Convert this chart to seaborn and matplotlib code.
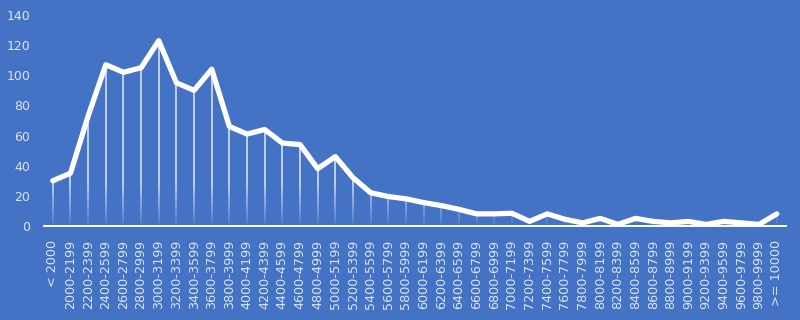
import numpy as np
import pandas as pd
import matplotlib
matplotlib.use("Agg")
import matplotlib.pyplot as plt
import seaborn as sns

categories = ["< 2000"] + [f"{a}-{a+199}" for a in range(2000, 10000, 200)] + [">= 10000"]
values = [30, 35, 73, 107, 102, 105, 123, 95, 90, 104, 66, 61, 64, 55, 54, 38, 46, 32,
          22, 19.5, 18, 15.5, 13.5, 11, 8, 8, 8.4, 3, 8, 4.4, 2, 5, 1, 5, 3, 2, 3, 1, 3, 2, 1, 8]
yticks = [0, 20, 40, 60, 80, 100, 120, 140]

BG = "#4472C4"
TXT = "#DCE3F1"

sns.set_style("white", {"axes.facecolor": BG, "figure.facecolor": BG})
plt.rcParams['font.family'] = ['DejaVu Sans']

df = pd.DataFrame({"x": np.arange(len(categories)), "y": values})

fig = plt.figure(figsize=(8, 3.2), dpi=100)
ax = fig.add_axes([0.055, 0.294, 0.927, 0.659])
ax.set_facecolor(BG)

vals = np.array(values, dtype=float)
xs = df["x"].values
# drop lines with fade near the baseline
fade = 30.0
N = 15
for k in range(N):
    y0 = k * fade / N
    y1 = (k + 1) * fade / N
    lo = np.minimum(vals, y0)
    hi = np.minimum(vals, y1)
    ax.vlines(xs, lo, hi, color="white", linewidth=1.1, alpha=0.03 + 0.82 * (k + 1) / N)
ax.vlines(xs, np.minimum(vals, fade), vals, color="white", linewidth=1.1, alpha=0.85)

sns.lineplot(data=df, x="x", y="y", ax=ax, color="white", linewidth=3.8,
             solid_joinstyle="round", solid_capstyle="round", zorder=5)

ax.set_xlim(-0.5, len(categories) - 0.5)
ax.set_ylim(0, 140)
ax.set_yticks(yticks)
ax.set_yticklabels([str(t) for t in yticks])
ax.set_xticks(xs)
ax.set_xticklabels(categories, rotation=90)
ax.set_xlabel("")
ax.set_ylabel("")
ax.tick_params(axis="y", length=0, pad=10, labelsize=9, labelcolor=TXT)
ax.tick_params(axis="x", length=0, pad=10, labelsize=9.2, labelcolor=TXT)
for lab in ax.get_xticklabels():
    lab.set_va("top")
    lab.set_ha("center")

for s in ["top", "right", "left"]:
    ax.spines[s].set_visible(False)
ax.spines["bottom"].set_color("white")
ax.spines["bottom"].set_linewidth(1.4)
ax.spines["bottom"].set_zorder(6)

fig.savefig("out.png", dpi=100, facecolor=BG)
